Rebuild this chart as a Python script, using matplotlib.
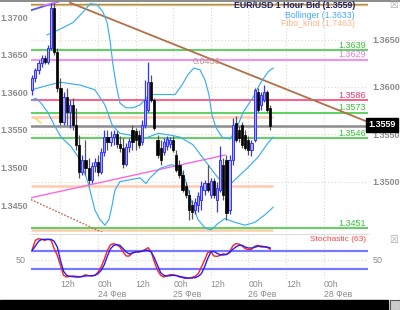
import numpy as np
import matplotlib.pyplot as plt
import matplotlib.transforms as mtransforms

plt.rcParams['font.family'] = ['Liberation Sans', 'DejaVu Sans']

# hourly candles, hour 0 = 23 Feb 00h
hours = np.arange(3, 80)
opens = [1.3597, 1.3609, 1.3618, 1.3625, 1.3631, 1.3626, 1.3641, 1.3683, 1.3637, 1.3599,
         1.3563, 1.3589, 1.3574, 1.3581, 1.3560, 1.3539, 1.3510, 1.3523, 1.3514, 1.3502,
         1.3517, 1.3521, 1.3510, 1.3531, 1.3547, 1.3542, 1.3547, 1.3550, 1.3540, 1.3536,
         1.3519, 1.3537, 1.3555, 1.3553, 1.3549, 1.3542, 1.3560, 1.3576, 1.3605, 1.3586,
         1.3544, 1.3536, 1.3531, 1.3538, 1.3540, 1.3544, 1.3528, 1.3518, 1.3507, 1.3495,
         1.3486, 1.3475, 1.3470, 1.3475, 1.3481, 1.3491, 1.3499, 1.3486, 1.3501, 1.3481,
         1.3491, 1.3518, 1.3523, 1.3470, 1.3523, 1.3562, 1.3555, 1.3560, 1.3549, 1.3544,
         1.3533, 1.3544, 1.3595, 1.3581, 1.3586, 1.3595, 1.3578]
highs = [1.3613, 1.3620, 1.3628, 1.3634, 1.3634, 1.3644, 1.3689, 1.3689, 1.3641, 1.3609,
         1.3595, 1.3599, 1.3586, 1.3588, 1.3578, 1.3549, 1.3528, 1.3544, 1.3525, 1.3521,
         1.3525, 1.3528, 1.3536, 1.3555, 1.3555, 1.3553, 1.3555, 1.3553, 1.3548, 1.3546,
         1.3541, 1.3546, 1.3560, 1.3557, 1.3555, 1.3565, 1.3607, 1.3626, 1.3613, 1.3588,
         1.3549, 1.3544, 1.3546, 1.3548, 1.3547, 1.3548, 1.3533, 1.3523, 1.3512, 1.3500,
         1.3491, 1.3481, 1.3483, 1.3489, 1.3501, 1.3502, 1.3518, 1.3504, 1.3504, 1.3500,
         1.3538, 1.3525, 1.3528, 1.3528, 1.3567, 1.3569, 1.3559, 1.3563, 1.3555, 1.3548,
         1.3544, 1.3599, 1.3599, 1.3595, 1.3602, 1.3597, 1.3581]
lows = [1.3592, 1.3605, 1.3614, 1.3621, 1.3624, 1.3624, 1.3639, 1.3634, 1.3595, 1.3560,
        1.3560, 1.3560, 1.3557, 1.3555, 1.3533, 1.3504, 1.3507, 1.3507, 1.3497, 1.3499,
        1.3510, 1.3506, 1.3508, 1.3527, 1.3533, 1.3538, 1.3539, 1.3536, 1.3531, 1.3514,
        1.3517, 1.3531, 1.3533, 1.3533, 1.3536, 1.3539, 1.3557, 1.3574, 1.3584, 1.3555,
        1.3525, 1.3518, 1.3528, 1.3533, 1.3536, 1.3531, 1.3510, 1.3504, 1.3489, 1.3483,
        1.3460, 1.3461, 1.3466, 1.3468, 1.3470, 1.3486, 1.3489, 1.3483, 1.3483, 1.3468,
        1.3489, 1.3481, 1.3460, 1.3466, 1.3518, 1.3542, 1.3542, 1.3536, 1.3533, 1.3528,
        1.3527, 1.3542, 1.3574, 1.3576, 1.3584, 1.3574, 1.3555]
closes = [1.3609, 1.3618, 1.3625, 1.3631, 1.3626, 1.3641, 1.3683, 1.3637, 1.3599, 1.3563,
          1.3589, 1.3574, 1.3581, 1.3560, 1.3539, 1.3510, 1.3523, 1.3514, 1.3502, 1.3517,
          1.3521, 1.3510, 1.3531, 1.3547, 1.3542, 1.3547, 1.3550, 1.3540, 1.3536, 1.3519,
          1.3537, 1.3543, 1.3542, 1.3544, 1.3539, 1.3560, 1.3586, 1.3605, 1.3586, 1.3557,
          1.3528, 1.3523, 1.3542, 1.3545, 1.3544, 1.3533, 1.3512, 1.3507, 1.3491, 1.3486,
          1.3470, 1.3468, 1.3479, 1.3485, 1.3495, 1.3499, 1.3491, 1.3501, 1.3486, 1.3493,
          1.3523, 1.3486, 1.3467, 1.3523, 1.3560, 1.3544, 1.3546, 1.3539, 1.3536, 1.3533,
          1.3541, 1.3597, 1.3576, 1.3592, 1.3595, 1.3576, 1.3559]

# bollinger bands (hour, price)
boll_up_h = [7.7, 11.2, 16.0, 19.2, 21.5, 23.7, 25.6, 26.9, 27.8, 28.8, 29.8, 31.0, 32.9, 35.2,
             37.4, 39.3, 40.6, 42.2, 45.4, 48.6, 50.8, 52.7, 54.6, 56.6, 58.2, 59.4, 60.4, 61.7,
             63.6, 66.1, 68.1, 70.3, 73.5, 76.0, 78.3, 79.9]
boll_up = [1.3655, 1.3660, 1.3668, 1.3679, 1.3688, 1.3687, 1.3679, 1.3668, 1.3650, 1.3623,
           1.3602, 1.3583, 1.3578, 1.3578, 1.3581, 1.3588, 1.3592, 1.3592, 1.3592, 1.3592,
           1.3602, 1.3613, 1.3620, 1.3618, 1.3607, 1.3592, 1.3570, 1.3557, 1.3547, 1.3545,
           1.3555, 1.3573, 1.3589, 1.3605, 1.3616, 1.3620]
boll_mid_h = [2.9, 7.1, 11.9, 18.3, 23.0, 26.2, 28.5, 31.0, 34.5, 37.7, 40.0, 43.2, 47.3,
              50.2, 54.3, 59.1, 62.3, 65.5, 68.7, 71.9, 75.1, 78.3, 79.9]
boll_mid = [1.3597, 1.3601, 1.3605, 1.3602, 1.3597, 1.3581, 1.3560, 1.3551, 1.3549, 1.3544,
            1.3547, 1.3551, 1.3549, 1.3547, 1.3539, 1.3518, 1.3504, 1.3495, 1.3505, 1.3515,
            1.3526, 1.3541, 1.3547]
boll_lo_h = [2.6, 4.2, 5.8, 8.0, 10.3, 12.2, 15.4, 18.3, 20.8, 23.0, 24.6, 26.2, 27.5, 28.5,
             29.4, 31.0, 34.2, 37.4, 39.3, 40.6, 43.8, 47.6, 50.2, 52.1, 54.0, 55.9, 58.2,
             60.1, 62.0, 64.5, 67.7, 70.9, 74.1, 77.3, 79.9]
boll_lo = [1.3586, 1.3588, 1.3583, 1.3573, 1.3558, 1.3547, 1.3537, 1.3523, 1.3499, 1.3470,
           1.3460, 1.3454, 1.3460, 1.3475, 1.3491, 1.3500, 1.3502, 1.3504, 1.3498, 1.3504,
           1.3514, 1.3518, 1.3514, 1.3500, 1.3477, 1.3460, 1.3451, 1.3449, 1.3455, 1.3461,
           1.3457, 1.3454, 1.3457, 1.3465, 1.3473]

# stochastic %K / %D per candle
stoch_k = [73.7, 93.7, 97.4, 95.9, 93.7, 95.9, 94.4, 75.2, 60.3, 38.1,
           15.9, 12.2, 13.7, 14.4, 13.7, 13.0, 13.0, 17.4, 15.2, 14.4,
           15.9, 23.3, 34.4, 51.5, 71.5, 84.0, 86.3, 84.0, 78.9, 67.8,
           58.9, 58.9, 66.3, 67.8, 67.8, 70.0, 73.0, 77.4, 67.8, 45.5,
           27.0, 15.9, 12.2, 15.2, 17.4, 17.4, 15.9, 12.2, 10.7, 8.5,
           9.2, 11.5, 13.7, 19.6, 34.4, 49.2, 66.3, 69.2, 58.9, 58.1,
           60.3, 64.0, 61.8, 67.8, 81.1, 86.3, 85.5, 81.1, 75.2, 73.0,
           73.7, 80.4, 82.6, 78.9, 78.9, 78.1, 73.7]
stoch_d = [71.5, 81.1, 91.5, 95.9, 95.9, 95.9, 95.9, 91.5, 78.9, 49.2,
           24.8, 15.9, 13.7, 13.0, 12.2, 12.2, 13.7, 14.4, 15.2, 15.2,
           15.9, 19.6, 27.0, 39.6, 58.9, 75.2, 82.6, 84.0, 82.6, 75.2,
           67.8, 63.3, 65.5, 67.8, 68.5, 69.2, 71.5, 71.5, 67.8, 54.4,
           38.1, 21.8, 15.9, 14.4, 15.2, 15.9, 15.2, 13.7, 12.2, 10.7,
           10.0, 10.0, 10.7, 13.7, 19.6, 34.4, 52.9, 67.8, 69.2, 64.8,
           61.8, 61.1, 62.6, 66.3, 73.7, 78.9, 82.6, 82.6, 78.9, 76.7,
           76.7, 78.1, 80.4, 81.1, 79.6, 78.9, 76.7]

# horizontal levels: (price, colour, label)
levels = [(1.3639, '#33c633', '1.3639'), (1.3629, '#f070f0', '1.3629'),
          (1.3586, '#ff3366', '1.3586'), (1.3573, '#33c633', '1.3573'),
          (1.3546, '#33c633', '1.3546'), (1.3451, '#33c633', '1.3451')]
fibo_levels = [1.3568, 1.3495, 1.3449]
last_price = 1.3559

tick_hours = [12, 24, 36, 48, 60, 72, 84, 96]
tick_labels = ['12h', '00h\n24 Фев', '12h', '00h\n25 Фев', '12h', '00h\n26 Фев', '12h', '00h\n28 Фев']
right_ticks = [1.3650, 1.3600, 1.3550, 1.3500]
left_ticks = [1.3700, 1.3650, 1.3600, 1.3550, 1.3500, 1.3450]

fig = plt.figure(figsize=(4.0, 3.1), dpi=100)
ax = fig.add_axes([31 / 400, 78 / 310, 337 / 400, 231 / 310])
axs = fig.add_axes([31 / 400, 31 / 310, 337 / 400, 45 / 310])

ax.set_xlim(2.6, 110.2)
ax.set_ylim(1.34468, 1.36908)
axs.set_xlim(2.6, 110.2)
axs.set_ylim(7.8, 107.8)

grid_c = '#e2dac8'
for a in (ax, axs):
    for h in tick_hours:
        a.axvline(h, color=grid_c, lw=0.8, ls=(0, (1, 2)), zorder=0)
    for s in a.spines.values():
        s.set_visible(False)
for p in right_ticks:
    ax.axhline(p, color=grid_c, lw=0.8, ls=(0, (1, 2)), zorder=0)
axs.axhline(50, color=grid_c, lw=0.8, ls=(0, (1, 2)), zorder=0)

# levels
ax.axhline(1.36875, color='#a09030', lw=1.0, zorder=1)
ax.axhline(1.36862, color='#d8b888', lw=1.0, zorder=1)
for p in fibo_levels:
    ax.hlines(p, 2.6, 79.9, color='#ffcbb0', lw=1.8, zorder=1)
ax.axhline(last_price, color='#8c8c8c', lw=1.8, zorder=1)
for p, c, lab in levels:
    ax.axhline(p, color=c, lw=1.1, zorder=1)
    ax.text(0.995, p + 0.00003, lab, color=c, fontsize=6.5, ha='right', va='bottom',
            transform=mtransforms.blended_transform_factory(ax.transAxes, ax.transData))

# trend lines
ax.plot([15.06, 110.2], [1.3689, 1.3563], color='#b07048', lw=1.3, zorder=2)
ax.text(58.5, 1.3627, '0.0456', color='#c09080', fontsize=6.5, ha='center', va='center')
ax.plot([2.6, 64.5], [1.3483, 1.3528], color='#ff66dd', lw=1.0, zorder=2)
ax.plot([2.6, 11.2], [1.3681, 1.3690], color='#5555ee', lw=1.3, zorder=2)
ax.plot([6.5, 11.2], [1.3686, 1.3690], color='#ff77ff', lw=1.0, zorder=2)
ax.plot([2.6, 26.9], [1.3481, 1.3444], color='#b86a50', lw=1.0, ls=(0, (1.2, 1.2)), zorder=2)
ax.plot([3.9, 5.8], [1.3567, 1.3562], color='#eedd44', lw=1.0, zorder=2)

# bollinger
bc = '#3aaef0'
ax.plot(boll_up_h, boll_up, color=bc, lw=0.85, zorder=3)
ax.plot(boll_mid_h, boll_mid, color=bc, lw=0.85, zorder=3)
ax.plot(boll_lo_h, boll_lo, color=bc, lw=0.85, zorder=3)

# candles
o = np.array(opens)
c = np.array(closes)
up = c >= o
ax.vlines(hours[up], np.array(lows)[up], np.array(highs)[up], color='#3333ff', lw=0.9, zorder=4)
ax.vlines(hours[~up], np.array(lows)[~up], np.array(highs)[~up], color='#555555', lw=0.9, zorder=4)
body = np.maximum(np.abs(c - o), 0.00004)
ax.bar(hours[up], body[up], bottom=np.minimum(o, c)[up], width=0.7,
       color='#a8a8ff', edgecolor='#3333ff', lw=0.7, zorder=5)
ax.bar(hours[~up], body[~up], bottom=np.minimum(o, c)[~up], width=0.7,
       color='black', edgecolor='black', lw=0.5, zorder=5)

# axes labels (left scale of the screenshot differs from the right one)
lab_c = '#8c8c8c'
axl = ax.twinx()
axl.set_ylim(1.34141, 1.37213)
axl.yaxis.tick_left()
axl.set_yticks(left_ticks)
axl.set_yticklabels(['%.4f' % p for p in left_ticks], fontsize=6.5, color=lab_c, fontweight='bold')
axl.tick_params(axis='y', length=0, pad=2)
for s in axl.spines.values():
    s.set_visible(False)

ax.yaxis.tick_right()
ax.set_yticks(right_ticks)
ax.set_yticklabels(['%.4f' % p for p in right_ticks], fontsize=6.5, color=lab_c, fontweight='bold')
ax.tick_params(axis='y', length=0, pad=3, labelleft=False, labelright=True)
ax.set_xticks([])

ax.text(1.0, 1.3560, '1.3559', color='white', fontsize=6.5, fontweight='bold', ha='left', va='center',
        transform=mtransforms.blended_transform_factory(ax.transAxes, ax.transData),
        bbox=dict(boxstyle='square,pad=0.25', fc='black', ec='black'), zorder=10)

# legend texts
fig.text(355 / 400, 1 - 5 / 310, 'EUR/USD 1 Hour Bid (1.3559)', color='#202070', fontsize=6.3,
         fontweight='bold', ha='right', va='center')
fig.text(355 / 400, 1 - 15 / 310, 'Bollinger (1.3633)', color='#44aaff', fontsize=6.3, ha='right', va='center')
fig.text(355 / 400, 1 - 24 / 310, 'Fibo_knot (1.7463)', color='#ffb48c', fontsize=6.3, ha='right', va='center')
fig.text(394 / 400, 1 - 5 / 310, '☒', color='#aaaaaa', fontsize=7, ha='center', va='center',
         family='DejaVu Sans')

# stochastic
axs.axhline(70, color='#7777ff', lw=1.6, zorder=2)
axs.axhline(30, color='#7777ff', lw=1.6, zorder=2)
axs.plot(hours, stoch_k, color='#ff2020', lw=1.0, zorder=3)
axs.plot(hours, stoch_d, color='#2020ff', lw=1.0, zorder=4)
axs.text(0.995, 0.96, 'Stochastic (63)', color='#ff4444', fontsize=6, ha='right', va='top',
         transform=axs.transAxes)
fig.text(394 / 400, 1 - 240 / 310, '☒', color='#aaaaaa', fontsize=7, ha='center', va='center',
         family='DejaVu Sans')
axs.set_yticks([])
axs.text(-0.015, 50, '50', color=lab_c, fontsize=6.5, ha='right', va='center',
         transform=mtransforms.blended_transform_factory(axs.transAxes, axs.transData))
axs.text(1.015, 50, '50', color=lab_c, fontsize=6.5, ha='left', va='center',
         transform=mtransforms.blended_transform_factory(axs.transAxes, axs.transData))
axs.spines['top'].set_visible(True)
axs.spines['top'].set_color('#dddddd')
axs.set_xticks(tick_hours)
axs.set_xticklabels(tick_labels, fontsize=6.3, color=lab_c, ha='left', linespacing=1.1)
axs.tick_params(axis='x', length=0, pad=1)

# frame bits
fig.add_artist(plt.Line2D([0, 1], [0.998, 0.998], color='#777777', lw=1.2))
fig.add_artist(plt.Rectangle((0, 0), 388 / 400, 10 / 310, color='black'))
fig.add_artist(plt.Rectangle((390 / 400, 0), 10 / 400, 10 / 310, fc='#cccccc', ec='#555555', lw=0.8))

fig.savefig('out.png', dpi=100)
